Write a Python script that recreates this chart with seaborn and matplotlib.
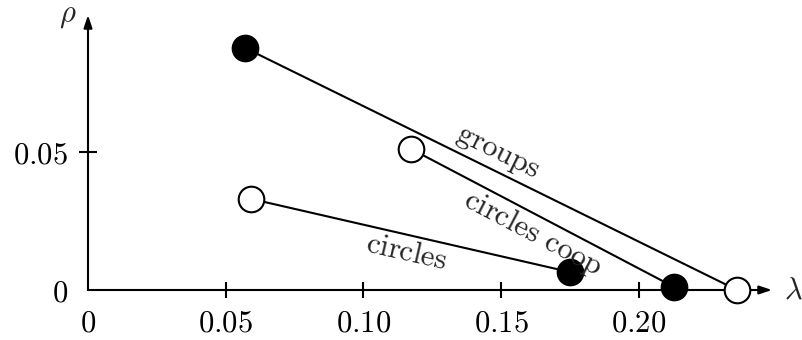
import matplotlib
matplotlib.use("Agg")
import matplotlib.pyplot as plt
import seaborn as sns
import pandas as pd

# ---- data ----
series = ["groups", "circles coop", "circles"]
x_start = [0.0570, 0.1173, 0.0592]
y_start = [0.0877, 0.0511, 0.0330]
x_end = [0.2357, 0.2128, 0.1750]
y_end = [0.0000, 0.0011, 0.0065]
start_filled = [True, False, False]
end_filled = [False, True, True]

x_ticks = [0, 0.05, 0.10, 0.15, 0.20]
x_tick_labels = ["0", "0.05", "0.10", "0.15", "0.20"]
y_ticks = [0, 0.05]
y_tick_labels = ["0", "0.05"]

# label anchors (data coords) and rotation
label_x = [0.1489, 0.1616, 0.1158]
label_y = [0.0500, 0.0205, 0.0138]
label_rot = [-26.2, -27.7, -12.9]

rows = []
for s, xs, ys, xe, ye, fs, fe in zip(series, x_start, y_start, x_end, y_end,
                                     start_filled, end_filled):
    rows.append(dict(series=s, x=xs, y=ys, filled=fs, order=0))
    rows.append(dict(series=s, x=xe, y=ye, filled=fe, order=1))
df = pd.DataFrame(rows)

sns.set_style("white")
plt.rcParams["mathtext.fontset"] = "cm"
plt.rcParams["font.family"] = ["DejaVu Serif"]

fig = plt.figure(figsize=(8.02, 3.40), dpi=100)
W, H = 802, 340
ax = fig.add_axes([88 / W, (H - 290) / H, 684 / W, 275 / H])
ax.set_xlim(0, 0.2484)
ax.set_ylim(0, 0.0996)

sns.lineplot(data=df, x="x", y="y", units="series", estimator=None, sort=False,
             color="black", linewidth=1.5, ax=ax, zorder=3, legend=False)
for fill, fc in [(True, "black"), (False, "white")]:
    sub = df[df["filled"] == fill]
    sns.scatterplot(data=sub, x="x", y="y", s=340, color=fc, edgecolor="black",
                    linewidth=1.5, ax=ax, zorder=5, clip_on=False, legend=False)
for c in ax.collections:
    c.set_clip_on(False)

FS = 22
for name, lx, ly, r in zip(series, label_x, label_y, label_rot):
    ax.text(lx, ly, r"$\mathrm{" + name.replace(" ", r"\ ") + "}$",
            rotation=r, rotation_mode="anchor", ha="center", va="center",
            fontsize=FS, zorder=6)

for sp in ax.spines.values():
    sp.set_visible(False)

arrow = dict(arrowstyle="-|>,head_length=0.75,head_width=0.25", lw=1.5,
             color="black", shrinkA=0, shrinkB=0)
ax.annotate("", xy=(1, 0), xytext=(0, 0), xycoords="axes fraction",
            arrowprops=arrow, zorder=2)
ax.annotate("", xy=(0, 1), xytext=(0, 0), xycoords="axes fraction",
            arrowprops=arrow, zorder=2)
ax.text(1.0 + 21 / 684, 0, r"$\lambda$", transform=ax.transAxes,
        ha="center", va="center", fontsize=FS)
ax.text(-20 / 684, 1.0, r"$\rho$", transform=ax.transAxes,
        ha="center", va="center", fontsize=FS)

ax.set_xticks(x_ticks)
ax.set_xticklabels(["$" + t + "$" for t in x_tick_labels])
ax.set_yticks(y_ticks)
ax.set_yticklabels(["$" + t + "$" for t in y_tick_labels])
ax.tick_params(axis="x", bottom=True, direction="inout", length=11.5, width=1.5,
               pad=7, labelsize=FS, colors="black")
ax.tick_params(axis="y", left=True, direction="inout", length=13, width=1.5,
               pad=8, labelsize=FS, colors="black")
ax.xaxis.get_major_ticks()[0].tick1line.set_visible(False)
ax.yaxis.get_major_ticks()[0].tick1line.set_visible(False)
ax.set_xlabel("")
ax.set_ylabel("")

fig.savefig("out.png", dpi=100)
